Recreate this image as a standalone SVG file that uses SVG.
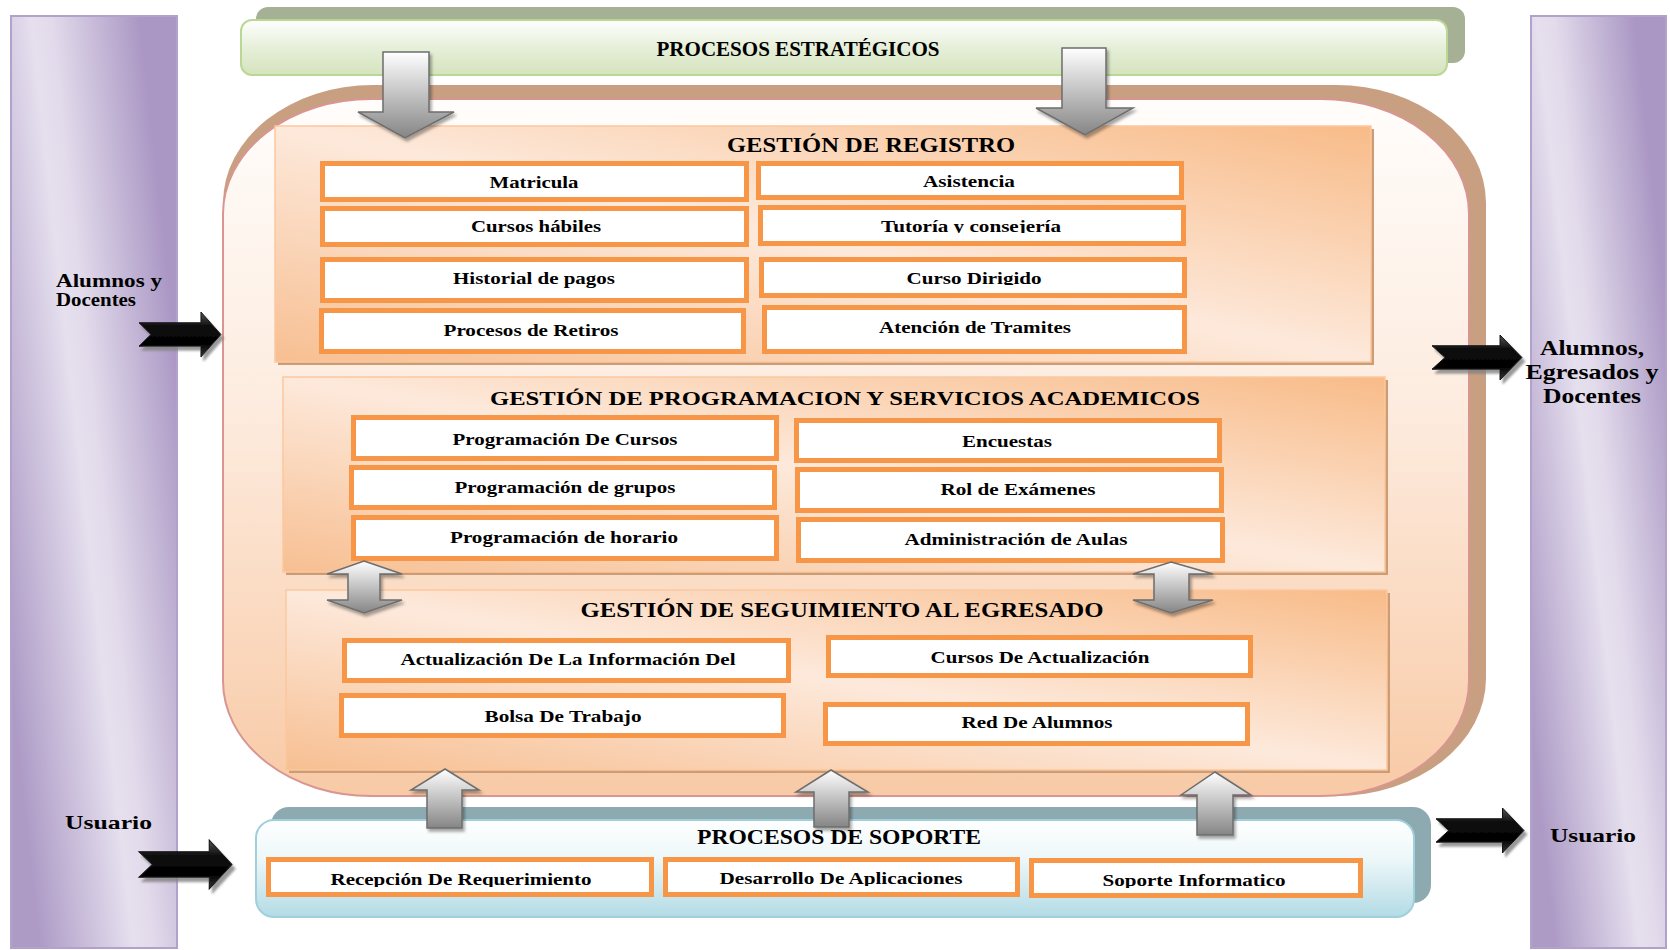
<svg xmlns="http://www.w3.org/2000/svg" width="1670" height="950" viewBox="0 0 1670 950">
<defs>
<style>
.t{font-family:"Liberation Serif","Times New Roman",serif;font-weight:bold;fill:#000}
.lb{font-size:17px}
.hd{font-size:20px}
.sd{font-size:19px}
.sr{font-size:21px}
.box{fill:#fff}
.bord{fill:none;stroke:#f79646;stroke-width:5}
.psh{fill:#cd9b74}
.panel{fill:url(#gPanel);stroke:#fbc89e;stroke-width:1.5}
.bar{stroke:#b2a1cb;stroke-width:2}
.garrow{fill:url(#gArrow);stroke:#6e6e6e;stroke-width:1.5;filter:url(#ds)}
.barrow{fill:url(#bArrow);stroke:#111;stroke-width:1;filter:url(#ds2)}
</style>
<linearGradient id="purL" gradientUnits="userSpaceOnUse" x1="-10" y1="493" x2="190" y2="471">
<stop offset="0" stop-color="#ad9bc6"/><stop offset="0.46" stop-color="#e5dfee"/><stop offset="0.56" stop-color="#e2dbeb"/><stop offset="1" stop-color="#aa97c4"/>
</linearGradient>
<linearGradient id="purR" gradientUnits="userSpaceOnUse" x1="1505" y1="492" x2="1685" y2="472">
<stop offset="0" stop-color="#ad9bc6"/><stop offset="0.46" stop-color="#e5dfee"/><stop offset="0.56" stop-color="#e2dbeb"/><stop offset="1" stop-color="#aa97c4"/>
</linearGradient>
<linearGradient id="gGreen" x1="0" y1="0" x2="0" y2="1">
<stop offset="0" stop-color="#ffffff"/><stop offset="0.5" stop-color="#e6efd9"/><stop offset="1" stop-color="#d5e3bd"/>
</linearGradient>
<linearGradient id="gBlue" x1="0" y1="0" x2="0" y2="1">
<stop offset="0" stop-color="#ffffff"/><stop offset="0.4" stop-color="#edf7f9"/><stop offset="1" stop-color="#b3dbe5"/>
</linearGradient>
<linearGradient id="gCont" x1="0" y1="0" x2="0" y2="1">
<stop offset="0" stop-color="#fffdfb"/><stop offset="0.45" stop-color="#fdebde"/><stop offset="1" stop-color="#f8caa6"/>
</linearGradient>
<linearGradient id="gPanel" x1="0" y1="1" x2="1" y2="0">
<stop offset="0" stop-color="#f7bf92"/><stop offset="0.5" stop-color="#fde9db"/><stop offset="1" stop-color="#f8bb88"/>
</linearGradient>
<linearGradient id="gArrow" x1="0" y1="0" x2="0" y2="1">
<stop offset="0" stop-color="#ffffff"/><stop offset="1" stop-color="#858585"/>
</linearGradient>
<linearGradient id="bArrow" x1="0" y1="0" x2="0" y2="1">
<stop offset="0" stop-color="#555"/><stop offset="0.3" stop-color="#111"/><stop offset="0.7" stop-color="#000"/><stop offset="1" stop-color="#3a3a3a"/>
</linearGradient>
<filter id="ds" x="-20%" y="-20%" width="150%" height="150%">
<feDropShadow dx="2" dy="3" stdDeviation="1.5" flood-color="#000" flood-opacity="0.35"/>
</filter>
<filter id="ds2" x="-20%" y="-20%" width="150%" height="150%">
<feDropShadow dx="3" dy="4" stdDeviation="1" flood-color="#808080" flood-opacity="0.8"/>
</filter>
<path id="blk" d="M0,11 L68,11 L68,0 L90,23 L68,46 L68,35 L0,35 L13,23 Z"/>
<clipPath id="cTut"><rect x="760" y="205" width="430" height="28"/></clipPath>
<clipPath id="cDir"><rect x="760" y="257" width="430" height="28"/></clipPath>
<clipPath id="cRec"><rect x="266" y="857" width="390" height="30"/></clipPath>
<clipPath id="cDes"><rect x="663" y="857" width="360" height="29"/></clipPath>
<clipPath id="cSop"><rect x="1029" y="858" width="335" height="30"/></clipPath>
</defs>

<rect width="1670" height="950" fill="#fff"/>

<!-- side actors -->
<g id="actor-left">
<rect class="bar" x="11" y="16" width="166" height="932" fill="url(#purL)"/>
<text class="t sd" x="56" y="287" textLength="106" lengthAdjust="spacingAndGlyphs">Alumnos y</text>
<text class="t sd" x="56" y="306" textLength="80" lengthAdjust="spacingAndGlyphs">Docentes</text>
<text class="t sd" x="65" y="829" textLength="87" lengthAdjust="spacingAndGlyphs">Usuario</text>
</g>
<g id="actor-right">
<rect class="bar" x="1531" y="16" width="135" height="932" fill="url(#purR)"/>
<text class="t sr" x="1592" y="355" text-anchor="middle" textLength="104" lengthAdjust="spacingAndGlyphs">Alumnos,</text>
<text class="t sr" x="1592" y="379" text-anchor="middle" textLength="133" lengthAdjust="spacingAndGlyphs">Egresados y</text>
<text class="t sr" x="1592" y="403" text-anchor="middle" textLength="98" lengthAdjust="spacingAndGlyphs">Docentes</text>
<text class="t sd" x="1550" y="842" textLength="86" lengthAdjust="spacingAndGlyphs">Usuario</text>
</g>

<!-- strategic processes -->
<g id="estrategicos">
<rect x="256" y="7" width="1209" height="56" rx="12" fill="#a6b094"/>
<rect x="241" y="20" width="1206" height="55" rx="11" fill="url(#gGreen)" stroke="#bad795" stroke-width="2"/>
<text class="t hd" x="798" y="56" text-anchor="middle" textLength="283" lengthAdjust="spacingAndGlyphs">PROCESOS ESTRATÉGICOS</text>
</g>

<!-- core processes container -->
<g id="nucleo">
<rect x="223" y="85" width="1263" height="711" rx="150" ry="118" fill="#c99f82"/>
<rect x="223" y="99" width="1246" height="697" rx="148" ry="115" fill="url(#gCont)" stroke="#d99592" stroke-width="2"/>
</g>

<g id="registro">
<rect class="psh" x="278" y="129" width="1096" height="236"/>
<rect class="panel" x="275" y="126" width="1096" height="236"/>
<text class="t hd" x="871" y="152" text-anchor="middle" textLength="288" lengthAdjust="spacingAndGlyphs">GESTIÓN DE REGISTRO</text>
<g id="matricula"><rect class="box" x="322.5" y="163.5" width="424" height="36"/><text class="t lb" x="534" y="188" text-anchor="middle" textLength="89" lengthAdjust="spacingAndGlyphs">Matricula</text><rect class="bord" x="322.5" y="163.5" width="424" height="36"/></g>
<g id="cursos-habiles"><rect class="box" x="322.5" y="208.5" width="424" height="36"/><text class="t lb" x="536" y="232" text-anchor="middle" textLength="130" lengthAdjust="spacingAndGlyphs">Cursos hábiles</text><rect class="bord" x="322.5" y="208.5" width="424" height="36"/></g>
<g id="historial"><rect class="box" x="322.5" y="259.5" width="424" height="41"/><text class="t lb" x="534" y="284" text-anchor="middle" textLength="162" lengthAdjust="spacingAndGlyphs">Historial de pagos</text><rect class="bord" x="322.5" y="259.5" width="424" height="41"/></g>
<g id="retiros"><rect class="box" x="321.5" y="310.5" width="422" height="41"/><text class="t lb" x="531" y="336" text-anchor="middle" textLength="175" lengthAdjust="spacingAndGlyphs">Procesos de Retiros</text><rect class="bord" x="321.5" y="310.5" width="422" height="41"/></g>
<g id="asistencia"><rect class="box" x="758.5" y="163.5" width="423" height="34"/><text class="t lb" x="969" y="187" text-anchor="middle" textLength="92" lengthAdjust="spacingAndGlyphs">Asistencia</text><rect class="bord" x="758.5" y="163.5" width="423" height="34"/></g>
<g id="tutoria"><rect class="box" x="760.5" y="207.5" width="423" height="36"/><text class="t lb" x="971" y="232" text-anchor="middle" textLength="180" lengthAdjust="spacingAndGlyphs" clip-path="url(#cTut)">Tutoría y consejería</text><rect class="bord" x="760.5" y="207.5" width="423" height="36"/></g>
<g id="curso-dirigido"><rect class="box" x="761.5" y="259.5" width="423" height="36"/><text class="t lb" x="974" y="284" text-anchor="middle" textLength="135" lengthAdjust="spacingAndGlyphs" clip-path="url(#cDir)">Curso Dirigido</text><rect class="bord" x="761.5" y="259.5" width="423" height="36"/></g>
<g id="tramites"><rect class="box" x="764.5" y="307.5" width="420" height="44"/><text class="t lb" x="975" y="333" text-anchor="middle" textLength="192" lengthAdjust="spacingAndGlyphs">Atención de Tramites</text><rect class="bord" x="764.5" y="307.5" width="420" height="44"/></g>
</g>

<g id="programacion">
<rect class="psh" x="286" y="380" width="1102" height="195"/>
<rect class="panel" x="283" y="377" width="1102" height="195"/>
<text class="t sd" x="845" y="405" text-anchor="middle" textLength="710" lengthAdjust="spacingAndGlyphs">GESTIÓN DE PROGRAMACION Y SERVICIOS ACADEMICOS</text>
<g id="prog-cursos"><rect class="box" x="353.5" y="417.5" width="423" height="41"/><text class="t lb" x="565" y="445" text-anchor="middle" textLength="225" lengthAdjust="spacingAndGlyphs">Programación De Cursos</text><rect class="bord" x="353.5" y="417.5" width="423" height="41"/></g>
<g id="prog-grupos"><rect class="box" x="351.5" y="467.5" width="423" height="40"/><text class="t lb" x="565" y="493" text-anchor="middle" textLength="221" lengthAdjust="spacingAndGlyphs">Programación de grupos</text><rect class="bord" x="351.5" y="467.5" width="423" height="40"/></g>
<g id="prog-horario"><rect class="box" x="353.5" y="517.5" width="423" height="41"/><text class="t lb" x="564" y="543" text-anchor="middle" textLength="228" lengthAdjust="spacingAndGlyphs">Programación de horario</text><rect class="bord" x="353.5" y="517.5" width="423" height="41"/></g>
<g id="encuestas"><rect class="box" x="796.5" y="420.5" width="423" height="40"/><text class="t lb" x="1007" y="447" text-anchor="middle" textLength="90" lengthAdjust="spacingAndGlyphs">Encuestas</text><rect class="bord" x="796.5" y="420.5" width="423" height="40"/></g>
<g id="examenes"><rect class="box" x="797.5" y="469.5" width="424" height="41"/><text class="t lb" x="1018" y="495" text-anchor="middle" textLength="155" lengthAdjust="spacingAndGlyphs">Rol de Exámenes</text><rect class="bord" x="797.5" y="469.5" width="424" height="41"/></g>
<g id="aulas"><rect class="box" x="798.5" y="519.5" width="424" height="41"/><text class="t lb" x="1016" y="545" text-anchor="middle" textLength="223" lengthAdjust="spacingAndGlyphs">Administración de Aulas</text><rect class="bord" x="798.5" y="519.5" width="424" height="41"/></g>
</g>

<g id="seguimiento">
<rect class="psh" x="289" y="593" width="1101" height="180"/>
<rect class="panel" x="286" y="590" width="1101" height="180"/>
<text class="t hd" x="842" y="617" text-anchor="middle" textLength="523" lengthAdjust="spacingAndGlyphs">GESTIÓN DE SEGUIMIENTO AL EGRESADO</text>
<g id="actualizacion-info"><rect class="box" x="344.5" y="640.5" width="444" height="40"/><text class="t lb" x="568" y="665" text-anchor="middle" textLength="335" lengthAdjust="spacingAndGlyphs">Actualización De La Información Del</text><rect class="bord" x="344.5" y="640.5" width="444" height="40"/></g>
<g id="bolsa"><rect class="box" x="341.5" y="695.5" width="442" height="40"/><text class="t lb" x="563" y="722" text-anchor="middle" textLength="157" lengthAdjust="spacingAndGlyphs">Bolsa De Trabajo</text><rect class="bord" x="341.5" y="695.5" width="442" height="40"/></g>
<g id="cursos-actualizacion"><rect class="box" x="828.5" y="637.5" width="422" height="38"/><text class="t lb" x="1040" y="663" text-anchor="middle" textLength="219" lengthAdjust="spacingAndGlyphs">Cursos De Actualización</text><rect class="bord" x="828.5" y="637.5" width="422" height="38"/></g>
<g id="red-alumnos"><rect class="box" x="825.5" y="704.5" width="422" height="39"/><text class="t lb" x="1037" y="728" text-anchor="middle" textLength="151" lengthAdjust="spacingAndGlyphs">Red De Alumnos</text><rect class="bord" x="825.5" y="704.5" width="422" height="39"/></g>
</g>

<!-- support processes -->
<g id="soporte">
<rect x="271" y="807" width="1160" height="96" rx="18" fill="#8eaab1"/>
<rect x="256" y="820" width="1158" height="97" rx="18" fill="url(#gBlue)" stroke="#9fd0dc" stroke-width="2"/>
<text class="t sr" x="839" y="844" text-anchor="middle" textLength="284" lengthAdjust="spacingAndGlyphs">PROCESOS DE SOPORTE</text>
<g id="requerimiento"><rect class="box" x="268.5" y="859.5" width="383" height="35"/><text class="t lb" x="461" y="885" text-anchor="middle" textLength="261" lengthAdjust="spacingAndGlyphs" clip-path="url(#cRec)">Recepción De Requerimiento</text><rect class="bord" x="268.5" y="859.5" width="383" height="35"/></g>
<g id="aplicaciones"><rect class="box" x="665.5" y="859.5" width="352" height="35"/><text class="t lb" x="841" y="884" text-anchor="middle" textLength="243" lengthAdjust="spacingAndGlyphs" clip-path="url(#cDes)">Desarrollo De Aplicaciones</text><rect class="bord" x="665.5" y="859.5" width="352" height="35"/></g>
<g id="soporte-informatico"><rect class="box" x="1031.5" y="860.5" width="329" height="35"/><text class="t lb" x="1194" y="886" text-anchor="middle" textLength="183" lengthAdjust="spacingAndGlyphs" clip-path="url(#cSop)">Soporte Informatico</text><rect class="bord" x="1031.5" y="860.5" width="329" height="35"/></g>
</g>

<!-- connectors -->
<g id="connectors">
<path class="garrow" d="M383,52 L429,52 L429,112 L454,112 L405,138 L358,112 L383,112 Z"/>
<path class="garrow" d="M1062,48 L1106,48 L1106,108 L1133,108 L1085,135 L1036,108 L1062,108 Z"/>
<path class="garrow" d="M364,561 L402,574 L380,574 L380,600 L402,600 L364,613 L327,600 L348,600 L348,574 L327,574 Z"/>
<path class="garrow" d="M1171,562 L1213,574 L1189,574 L1189,600 L1213,600 L1171,613 L1133,600 L1154,600 L1154,574 L1133,574 Z"/>
<path class="garrow" d="M445,769 L479,790 L462,790 L462,828 L427,828 L427,790 L411,790 Z"/>
<path class="garrow" d="M831,770 L868,792 L849,792 L849,827 L814,827 L814,792 L796,792 Z"/>
<path class="garrow" d="M1215,772 L1251,795 L1233,795 L1233,835 L1197,835 L1197,795 L1181,795 Z"/>
<use href="#blk" class="barrow" transform="translate(139,312) scale(0.911,0.978)"/>
<use href="#blk" class="barrow" transform="translate(139,840) scale(1.033,1.065)"/>
<use href="#blk" class="barrow" transform="translate(1432,335) scale(1,0.978)"/>
<use href="#blk" class="barrow" transform="translate(1436,808) scale(0.978,0.978)"/>
</g>
</svg>
